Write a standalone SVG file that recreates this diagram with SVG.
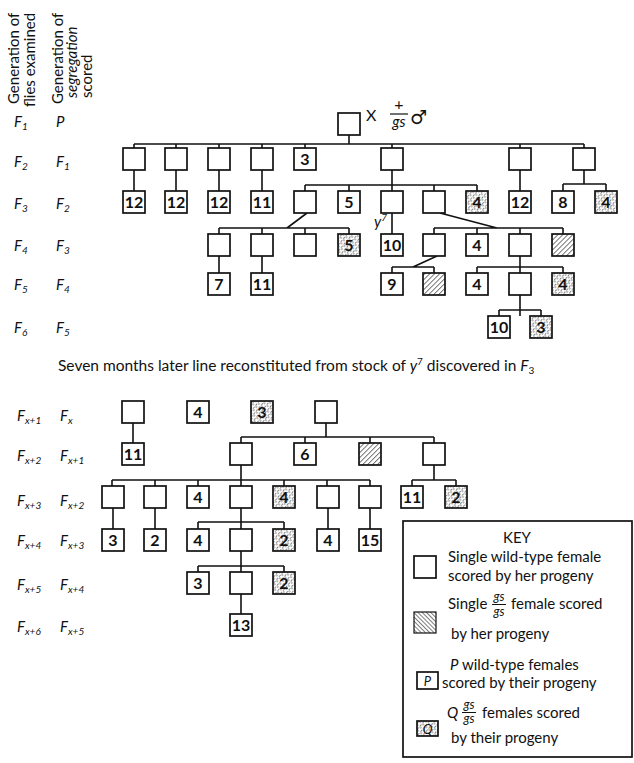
<svg xmlns="http://www.w3.org/2000/svg" width="634" height="763" viewBox="0 0 634 763">
<defs>
<style>
text{font-family:Lato,"Open Sans","Liberation Sans",sans-serif;fill:#111}
.b{fill:#fff;stroke:#111;stroke-width:1.7}
.h{fill:url(#diag);stroke:#111;stroke-width:1.7}
.s{fill:url(#stip);stroke:#111;stroke-width:1.7}
.n{font-size:16px;text-anchor:middle;font-weight:bold}
.c line,.c path{stroke:#111;stroke-width:1.6;fill:none}
.lab{font-size:15px;font-style:italic}
.sub{font-size:10px}
.hd{font-size:15px}
.k{font-size:15px}
.fr{font-size:12.5px;font-style:italic;text-anchor:middle}
.sym{font-family:"DejaVu Sans",sans-serif}
</style>
<pattern id="diag" width="3.5" height="3.5" patternUnits="userSpaceOnUse" patternTransform="rotate(45)">
<rect width="3.5" height="3.5" fill="#fff"/>
<line x1="0" y1="0" x2="0" y2="3.5" stroke="#222" stroke-width="1.2"/>
</pattern>
<pattern id="diagk" width="3" height="3" patternUnits="userSpaceOnUse" patternTransform="rotate(-45)">
<rect width="3" height="3" fill="#fff"/>
<line x1="0" y1="0" x2="0" y2="3" stroke="#222" stroke-width="1.2"/>
</pattern>
<pattern id="stip" width="4" height="4" patternUnits="userSpaceOnUse" patternTransform="rotate(40)">
<rect width="4" height="4" fill="#fff"/>
<line x1="0" y1="0" x2="0" y2="2.5" stroke="#333" stroke-width="1.2"/>
<line x1="2" y1="2" x2="2" y2="4" stroke="#666" stroke-width="0.9"/>
</pattern>
</defs>
<rect width="634" height="763" fill="#fff"/>

<g id="header">
<text class="hd" transform="translate(19,104) rotate(-90)">Generation of</text>
<text class="hd" transform="translate(35,107) rotate(-90)">flies examined</text>
<text class="hd" transform="translate(63,104) rotate(-90)">Generation of</text>
<text class="hd" transform="translate(77,98) rotate(-90)" font-style="italic">segregation</text>
<text class="hd" transform="translate(92,98) rotate(-90)">scored</text>
</g>

<g id="row-labels">
<text class="lab" x="14" y="127">F<tspan class="sub" dy="3">1</tspan></text>
<text class="lab" x="56" y="127">P</text>
<text class="lab" x="14" y="167">F<tspan class="sub" dy="3">2</tspan></text>
<text class="lab" x="56" y="167">F<tspan class="sub" dy="3">1</tspan></text>
<text class="lab" x="14" y="209">F<tspan class="sub" dy="3">3</tspan></text>
<text class="lab" x="56" y="209">F<tspan class="sub" dy="3">2</tspan></text>
<text class="lab" x="14" y="251">F<tspan class="sub" dy="3">4</tspan></text>
<text class="lab" x="56" y="251">F<tspan class="sub" dy="3">3</tspan></text>
<text class="lab" x="14" y="290">F<tspan class="sub" dy="3">5</tspan></text>
<text class="lab" x="56" y="290">F<tspan class="sub" dy="3">4</tspan></text>
<text class="lab" x="14" y="333">F<tspan class="sub" dy="3">6</tspan></text>
<text class="lab" x="56" y="333">F<tspan class="sub" dy="3">5</tspan></text>
<text class="lab" x="17" y="421">F<tspan class="sub" dy="3">x+1</tspan></text>
<text class="lab" x="60" y="421">F<tspan class="sub" dy="3">x</tspan></text>
<text class="lab" x="17" y="461">F<tspan class="sub" dy="3">x+2</tspan></text>
<text class="lab" x="60" y="461">F<tspan class="sub" dy="3">x+1</tspan></text>
<text class="lab" x="17" y="506">F<tspan class="sub" dy="3">x+3</tspan></text>
<text class="lab" x="60" y="506">F<tspan class="sub" dy="3">x+2</tspan></text>
<text class="lab" x="17" y="546">F<tspan class="sub" dy="3">x+4</tspan></text>
<text class="lab" x="60" y="546">F<tspan class="sub" dy="3">x+3</tspan></text>
<text class="lab" x="17" y="590">F<tspan class="sub" dy="3">x+5</tspan></text>
<text class="lab" x="60" y="590">F<tspan class="sub" dy="3">x+4</tspan></text>
<text class="lab" x="17" y="632">F<tspan class="sub" dy="3">x+6</tspan></text>
<text class="lab" x="60" y="632">F<tspan class="sub" dy="3">x+5</tspan></text>
</g>

<g id="cross">
<text x="366" y="121" font-size="16">X</text>
<text x="399" y="110" font-size="16" text-anchor="middle">+</text>
<line x1="390" y1="114" x2="408" y2="114" stroke="#111" stroke-width="1.2"/>
<text x="399" y="127" font-size="15" text-anchor="middle" font-style="italic">gs</text>
<text class="sym" x="410" y="124" font-size="19">♂</text>
</g>

<g id="connectors" class="c">
<line x1="349" y1="135" x2="349" y2="144"/>
<line x1="134" y1="144" x2="584" y2="144"/>
<path d="M134 144V148M176 144V148M219 144V148M262 144V148M305 144V148M392 144V148M520 144V148M584 144V148"/>
<path d="M134 170V191M176 170V191M219 170V191M262 170V191M520 170V191"/>
<path d="M392 170V191M305 185H477M305 185V191M349 185V191M434 185V191M477 185V191"/>
<path d="M584 170V184M563 184H606M563 184V191M606 184V191"/>
<path d="M307 213L287 228M219 228H349M219 228V234M262 228V234M305 228V234M349 228V234"/>
<path d="M392 213V234"/>
<path d="M440 213L497 228M434 228H563M434 228V234M477 228V234M520 228V234M563 228V234"/>
<path d="M219 256V273M262 256V273"/>
<path d="M437 256L413 267M392 267H434M392 267V273M434 267V273"/>
<path d="M520 256V273M477 267H563M477 267V273M563 267V273"/>
<path d="M520 295V316M499 310H541M499 310V316M541 310V316"/>
<path d="M133 423V443"/>
<path d="M326 423V437M241 437H434M241 437V443M305 437V443M370 437V443M434 437V443"/>
<path d="M241 465V486M112 480H370M112 480V486M155 480V486M198 480V486M284 480V486M327 480V486M370 480V486"/>
<path d="M434 465V480M412 480H456M412 480V486M456 480V486"/>
<path d="M113 508V529M155 508V529M328 508V529M370 508V529"/>
<path d="M241 508V529M198 522H284M198 522V529M284 522V529"/>
<path d="M241 551V572M198 566H284M198 566V572M284 566V572"/>
<path d="M241 594V614"/>
</g>

<g id="n-top"><rect class="b" x="338" y="113" width="22" height="22"/></g>
<g id="n-f2-1"><rect class="b" x="123" y="148" width="22" height="22"/></g>
<g id="n-f2-2"><rect class="b" x="165" y="148" width="22" height="22"/></g>
<g id="n-f2-3"><rect class="b" x="208" y="148" width="22" height="22"/></g>
<g id="n-f2-4"><rect class="b" x="251" y="148" width="22" height="22"/></g>
<g id="n-f2-5"><rect class="b" x="294" y="148" width="22" height="22"/><text class="n" x="305" y="165">3</text></g>
<g id="n-f2-6"><rect class="b" x="381" y="148" width="22" height="22"/></g>
<g id="n-f2-7"><rect class="b" x="509" y="148" width="22" height="22"/></g>
<g id="n-f2-8"><rect class="b" x="573" y="148" width="22" height="22"/></g>
<g id="n-f3-1"><rect class="b" x="123" y="191" width="22" height="22"/><text class="n" x="134" y="208">12</text></g>
<g id="n-f3-2"><rect class="b" x="165" y="191" width="22" height="22"/><text class="n" x="176" y="208">12</text></g>
<g id="n-f3-3"><rect class="b" x="208" y="191" width="22" height="22"/><text class="n" x="219" y="208">12</text></g>
<g id="n-f3-4"><rect class="b" x="251" y="191" width="22" height="22"/><text class="n" x="262" y="208">11</text></g>
<g id="n-f3-5"><rect class="b" x="294" y="191" width="22" height="22"/></g>
<g id="n-f3-6"><rect class="b" x="338" y="191" width="22" height="22"/><text class="n" x="349" y="208">5</text></g>
<g id="n-f3-7"><rect class="b" x="381" y="191" width="22" height="22"/><text x="374" y="227" font-size="15" font-style="italic">y<tspan font-size="10" dy="-6">7</tspan></text></g>
<g id="n-f3-8"><rect class="b" x="423" y="191" width="22" height="22"/></g>
<g id="n-f3-9"><rect class="s" x="466" y="191" width="22" height="22"/><text class="n" x="477" y="208">4</text></g>
<g id="n-f3-10"><rect class="b" x="509" y="191" width="22" height="22"/><text class="n" x="520" y="208">12</text></g>
<g id="n-f3-11"><rect class="b" x="552" y="191" width="22" height="22"/><text class="n" x="563" y="208">8</text></g>
<g id="n-f3-12"><rect class="s" x="595" y="191" width="22" height="22"/><text class="n" x="606" y="208">4</text></g>
<g id="n-f4-1"><rect class="b" x="208" y="234" width="22" height="22"/></g>
<g id="n-f4-2"><rect class="b" x="251" y="234" width="22" height="22"/></g>
<g id="n-f4-3"><rect class="b" x="294" y="234" width="22" height="22"/></g>
<g id="n-f4-4"><rect class="s" x="338" y="234" width="22" height="22"/><text class="n" x="349" y="251">5</text></g>
<g id="n-f4-5"><rect class="b" x="381" y="234" width="22" height="22"/><text class="n" x="392" y="251">10</text></g>
<g id="n-f4-6"><rect class="b" x="423" y="234" width="22" height="22"/></g>
<g id="n-f4-7"><rect class="b" x="466" y="234" width="22" height="22"/><text class="n" x="477" y="251">4</text></g>
<g id="n-f4-8"><rect class="b" x="509" y="234" width="22" height="22"/></g>
<g id="n-f4-9"><rect class="h" x="552" y="234" width="22" height="22"/></g>
<g id="n-f5-1"><rect class="b" x="208" y="273" width="22" height="22"/><text class="n" x="219" y="290">7</text></g>
<g id="n-f5-2"><rect class="b" x="251" y="273" width="22" height="22"/><text class="n" x="262" y="290">11</text></g>
<g id="n-f5-3"><rect class="b" x="381" y="273" width="22" height="22"/><text class="n" x="392" y="290">9</text></g>
<g id="n-f5-4"><rect class="h" x="423" y="273" width="22" height="22"/></g>
<g id="n-f5-5"><rect class="b" x="466" y="273" width="22" height="22"/><text class="n" x="477" y="290">4</text></g>
<g id="n-f5-6"><rect class="b" x="509" y="273" width="22" height="22"/></g>
<g id="n-f5-7"><rect class="s" x="552" y="273" width="22" height="22"/><text class="n" x="563" y="290">4</text></g>
<g id="n-f6-1"><rect class="b" x="488" y="316" width="22" height="22"/><text class="n" x="499" y="333">10</text></g>
<g id="n-f6-2"><rect class="s" x="530" y="316" width="22" height="22"/><text class="n" x="541" y="333">3</text></g>

<g id="note"><text x="58" y="371" font-size="15.5">Seven months later line reconstituted from stock of <tspan font-style="italic">y</tspan><tspan font-size="10" dy="-6">7</tspan><tspan dy="6"> discovered in </tspan><tspan font-style="italic">F</tspan><tspan font-size="10" dy="3">3</tspan></text></g>

<g id="m-1-1"><rect class="b" x="122" y="401" width="22" height="22"/></g>
<g id="m-1-2"><rect class="b" x="187" y="401" width="22" height="22"/><text class="n" x="198" y="418">4</text></g>
<g id="m-1-3"><rect class="s" x="251" y="401" width="22" height="22"/><text class="n" x="262" y="418">3</text></g>
<g id="m-1-4"><rect class="b" x="315" y="401" width="22" height="22"/></g>
<g id="m-2-1"><rect class="b" x="122" y="443" width="22" height="22"/><text class="n" x="133" y="460">11</text></g>
<g id="m-2-2"><rect class="b" x="230" y="443" width="22" height="22"/></g>
<g id="m-2-3"><rect class="b" x="294" y="443" width="22" height="22"/><text class="n" x="305" y="460">6</text></g>
<g id="m-2-4"><rect class="h" x="359" y="443" width="22" height="22"/></g>
<g id="m-2-5"><rect class="b" x="423" y="443" width="22" height="22"/></g>
<g id="m-3-1"><rect class="b" x="102" y="486" width="22" height="22"/></g>
<g id="m-3-2"><rect class="b" x="144" y="486" width="22" height="22"/></g>
<g id="m-3-3"><rect class="b" x="187" y="486" width="22" height="22"/><text class="n" x="198" y="503">4</text></g>
<g id="m-3-4"><rect class="b" x="230" y="486" width="22" height="22"/></g>
<g id="m-3-5"><rect class="s" x="273" y="486" width="22" height="22"/><text class="n" x="284" y="503">4</text></g>
<g id="m-3-6"><rect class="b" x="317" y="486" width="22" height="22"/></g>
<g id="m-3-7"><rect class="b" x="359" y="486" width="22" height="22"/></g>
<g id="m-3-8"><rect class="b" x="401" y="486" width="22" height="22"/><text class="n" x="412" y="503">11</text></g>
<g id="m-3-9"><rect class="s" x="445" y="486" width="22" height="22"/><text class="n" x="456" y="503">2</text></g>
<g id="m-4-1"><rect class="b" x="102" y="529" width="22" height="22"/><text class="n" x="113" y="546">3</text></g>
<g id="m-4-2"><rect class="b" x="144" y="529" width="22" height="22"/><text class="n" x="155" y="546">2</text></g>
<g id="m-4-3"><rect class="b" x="187" y="529" width="22" height="22"/><text class="n" x="198" y="546">4</text></g>
<g id="m-4-4"><rect class="b" x="230" y="529" width="22" height="22"/></g>
<g id="m-4-5"><rect class="s" x="273" y="529" width="22" height="22"/><text class="n" x="284" y="546">2</text></g>
<g id="m-4-6"><rect class="b" x="317" y="529" width="22" height="22"/><text class="n" x="328" y="546">4</text></g>
<g id="m-4-7"><rect class="b" x="359" y="529" width="22" height="22"/><text class="n" x="370" y="546">15</text></g>
<g id="m-5-1"><rect class="b" x="187" y="572" width="22" height="22"/><text class="n" x="198" y="589">3</text></g>
<g id="m-5-2"><rect class="b" x="230" y="572" width="22" height="22"/></g>
<g id="m-5-3"><rect class="s" x="273" y="572" width="22" height="22"/><text class="n" x="284" y="589">2</text></g>
<g id="m-6-1"><rect class="b" x="230" y="614" width="22" height="22"/><text class="n" x="241" y="631">13</text></g>

<g id="key">
<rect x="403" y="521" width="229" height="236" fill="#fff" stroke="#111" stroke-width="1.7"/>
<text class="k" x="517" y="543" text-anchor="middle">KEY</text>
<rect class="b" x="414" y="556" width="22" height="22"/>
<text class="k" x="448" y="562">Single wild-type female</text>
<text class="k" x="448" y="581">scored by her progeny</text>
<rect x="414" y="612" width="22" height="21" fill="url(#diagk)" stroke="#111" stroke-width="1.2"/>
<text class="k" x="448" y="609">Single</text>
<text class="fr" x="499" y="601">gs</text>
<line x1="492" y1="604.5" x2="506" y2="604.5" stroke="#111" stroke-width="1"/>
<text class="fr" x="499" y="616">gs</text>
<text class="k" x="511" y="609">female scored</text>
<text class="k" x="451" y="639">by her progeny</text>
<rect class="b" x="417" y="672" width="21" height="17"/>
<text x="427.5" y="685.5" font-size="13" font-style="italic" text-anchor="middle">P</text>
<text class="k" x="450" y="670"><tspan font-style="italic">P</tspan> wild-type females</text>
<text class="k" x="442" y="688">scored by their progeny</text>
<rect class="s" x="417" y="721" width="21" height="15"/>
<text x="427.5" y="733.5" font-size="13" font-style="italic" text-anchor="middle">Q</text>
<text class="k" x="447" y="718" font-style="italic">Q</text>
<text class="fr" x="469" y="709">gs</text>
<line x1="462" y1="712.5" x2="476" y2="712.5" stroke="#111" stroke-width="1"/>
<text class="fr" x="469" y="723">gs</text>
<text class="k" x="482" y="718">females scored</text>
<text class="k" x="451" y="743">by their progeny</text>
</g>
</svg>
